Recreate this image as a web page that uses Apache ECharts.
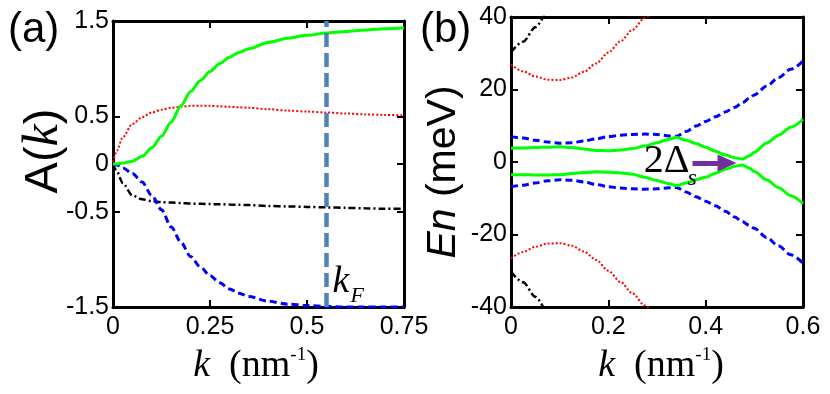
<!DOCTYPE html>
<html>
<head>
<meta charset="utf-8">
<script src="https://cdn.jsdelivr.net/npm/echarts@6/dist/echarts.min.js"></script>
<style>
html, body { margin: 0; background: #fff; }
#main { width: 830px; height: 394px; }
</style>
</head>
<body>
<div id="main"></div>
<script>
// ---- panel (a): A(k) vs k ----
var kA = [0, 0.01, 0.025, 0.05, 0.075, 0.1, 0.125, 0.15, 0.175, 0.2, 0.225, 0.25, 0.275, 0.3, 0.325, 0.35, 0.4, 0.45, 0.5, 0.55, 0.6, 0.65, 0.7, 0.75];
var greenA = [0, 0, 0.01, 0.03, 0.08, 0.17, 0.29, 0.44, 0.61, 0.76, 0.875, 0.97, 1.055, 1.12, 1.17, 1.21, 1.275, 1.32, 1.35, 1.375, 1.39, 1.405, 1.42, 1.43];
var redA = [0.02, 0.14, 0.28, 0.42, 0.49, 0.54, 0.57, 0.59, 0.6, 0.61, 0.61, 0.61, 0.605, 0.6, 0.595, 0.59, 0.575, 0.56, 0.55, 0.54, 0.53, 0.52, 0.515, 0.51];
var blackA = [0, -0.08, -0.2, -0.33, -0.37, -0.39, -0.4, -0.405, -0.41, -0.415, -0.418, -0.42, -0.422, -0.425, -0.428, -0.43, -0.44, -0.445, -0.45, -0.455, -0.46, -0.465, -0.47, -0.47];
var blueA = [0, -0.01, -0.04, -0.1, -0.19, -0.33, -0.48, -0.66, -0.82, -0.97, -1.08, -1.17, -1.245, -1.31, -1.355, -1.39, -1.44, -1.47, -1.485, -1.495, -1.5, -1.5, -1.5, -1.5];
var kF = 0.55;
var yTicksA = [-1.5, -0.5, 0, 0.5, 1.5];

// ---- panel (b): En (meV) vs k ----
var kB = [0, 0.025, 0.05, 0.075, 0.1, 0.125, 0.15, 0.175, 0.2, 0.225, 0.25, 0.275, 0.3, 0.325, 0.34, 0.36, 0.38, 0.4, 0.42, 0.44, 0.46, 0.475, 0.49, 0.5, 0.525, 0.55, 0.575, 0.6];
var greenUp = [3.8, 3.85, 4.0, 4.1, 4.2, 4.0, 3.6, 3.2, 3.1, 3.3, 3.7, 4.4, 5.3, 6.3, 6.8, 6.0, 5.1, 4.1, 3.0, 1.9, 1.2, 0.8, 1.7, 2.7, 5.2, 7.4, 9.6, 11.8];
var greenDn = [-3.5, -3.5, -3.6, -3.6, -3.5, -3.2, -2.9, -2.7, -2.8, -3.0, -3.4, -4.2, -5.1, -6.0, -6.5, -5.8, -4.9, -4.2, -3.1, -2.0, -1.2, -0.8, -1.7, -2.6, -4.9, -7.1, -9.3, -11.5];
var blueUp = [7.0, 6.6, 6.0, 5.5, 5.2, 5.3, 5.8, 6.4, 7.0, 7.4, 7.6, 7.7, 7.6, 7.2, 7.1, 8.4, 9.9, 11.2, 12.5, 13.8, 15.1, 16.3, 17.6, 18.5, 20.9, 23.3, 25.6, 27.8];
var blueDn = [-6.8, -6.4, -5.8, -5.2, -4.9, -5.0, -5.5, -6.2, -6.8, -7.2, -7.4, -7.5, -7.4, -7.1, -7.0, -8.3, -9.6, -10.8, -12.1, -13.6, -15.2, -16.4, -17.5, -18.3, -20.8, -23.2, -25.6, -27.9];
var redUp = [26.9, 25.0, 23.6, 22.7, 22.6, 23.3, 24.9, 27.2, 30.2, 33.3, 36.5, 39.8, 43.0];
var redDn = [-26.6, -24.8, -23.4, -22.5, -22.4, -23.1, -24.7, -27.0, -30.0, -33.1, -36.3, -39.6, -43.0];
var blackUp = [30.3, 33.2, 37.2, 42.5];
var blackDn = [-30.3, -33.2, -37.2, -42.5];
var gapArrow = [[0.373, -0.3], [0.444, -0.3]];

var sans = 'Liberation Sans';
var serif = 'Liberation Serif';

function pairs(xs, ys) {
    return ys.map(function (y, i) { return [xs[i], y]; });
}

function frame() {
    return { show: true, onZero: false, lineStyle: { color: '#000', width: 3 } };
}
function ticks() {
    return { show: true, inside: true, length: 7, lineStyle: { color: '#000', width: 2 } };
}

function xAx(grid, pos, max, step) {
    return {
        type: 'value', gridIndex: grid, position: pos, min: 0, max: max, interval: step,
        axisLine: frame(), splitLine: { show: false }, axisTick: ticks(),
        axisLabel: { show: pos === 'bottom', color: '#000', fontFamily: sans, fontSize: 25, margin: 8 }
    };
}

function yAx(grid, pos, min, max, step, custom) {
    var a = {
        type: 'value', gridIndex: grid, position: pos, min: min, max: max, interval: step,
        axisLine: frame(), splitLine: { show: false }, axisTick: ticks(),
        axisLabel: { show: pos === 'left', color: '#000', fontFamily: sans, fontSize: 25, margin: 4 }
    };
    if (custom) {
        a.axisTick.customValues = custom;
        a.axisLabel.customValues = custom;
    }
    return a;
}

var styles = {
    green: { color: '#00ff00', width: 3, type: 'solid' },
    red: { color: '#ff0000', width: 2, type: [2, 2] },
    black: { color: '#000000', width: 2.5, type: [7, 3, 2, 3] },
    blue: { color: '#0000ff', width: 3, type: [7, 4] }
};

function line(xi, data, st, extra) {
    var s = {
        type: 'line', xAxisIndex: xi, yAxisIndex: xi, data: data,
        showSymbol: false, symbol: 'none', smooth: 0.3, smoothMonotone: 'x',
        lineStyle: st, silent: true, clip: true
    };
    for (var key in extra) s[key] = extra[key];
    return s;
}

var chart = echarts.init(document.getElementById('main'));

var option = {
    animation: false,
    grid: [
        { left: 113, top: 21, width: 291, height: 286 },
        { left: 511, top: 17, width: 292, height: 290 }
    ],
    xAxis: [xAx(0, 'bottom', 0.75, 0.25), xAx(0, 'top', 0.75, 0.25), xAx(1, 'bottom', 0.6, 0.2), xAx(1, 'top', 0.6, 0.2)],
    yAxis: [yAx(0, 'left', -1.5, 1.5, 0.5, yTicksA), yAx(0, 'right', -1.5, 1.5, 0.5, yTicksA), yAx(1, 'left', -40, 40, 20), yAx(1, 'right', -40, 40, 20)],
    series: [
        line(0, pairs(kA, redA), styles.red),
        line(0, pairs(kA, blackA), styles.black),
        line(0, pairs(kA, blueA), styles.blue),
        line(0, pairs(kA, greenA), styles.green, {
            markLine: {
                silent: true, symbol: ['none', 'none'], label: { show: false },
                lineStyle: { color: '#4f81bd', width: 4.5, type: [14, 6] },
                data: [{ xAxis: kF }]
            }
        }),
        line(2, pairs(kB, blackUp), styles.black),
        line(2, pairs(kB, blackDn), styles.black),
        line(2, pairs(kB, redUp), styles.red),
        line(2, pairs(kB, redDn), styles.red),
        line(2, pairs(kB, blueUp), styles.blue),
        line(2, pairs(kB, blueDn), styles.blue),
        line(2, pairs(kB, greenDn), styles.green),
        line(2, pairs(kB, greenUp), styles.green, {
            markLine: {
                silent: true, symbol: ['none', 'triangle'], symbolSize: [17, 19], label: { show: false },
                lineStyle: { color: '#7030a0', width: 5, type: 'solid' },
                data: [[{ coord: gapArrow[0] }, { coord: gapArrow[1] }]]
            }
        })
    ]
};
chart.setOption(option);

// text labels and annotations
var kFpx = chart.convertToPixel({ xAxisIndex: 0, yAxisIndex: 0 }, [kF, -1.5]);
var arrowPx = chart.convertToPixel({ xAxisIndex: 2, yAxisIndex: 2 }, gapArrow[0]);

function axisTitle(cx, y) {
    return {
        type: 'text', x: cx, y: y, z: 10,
        style: {
            text: '{i|k}{n|  (nm}{s|-1}{n|)}', align: 'center', verticalAlign: 'middle',
            rich: {
                i: { fontFamily: serif, fontStyle: 'italic', fontSize: 38, lineHeight: 40 },
                n: { fontFamily: serif, fontSize: 38, lineHeight: 40 },
                s: { fontFamily: serif, fontSize: 19, lineHeight: 19, verticalAlign: 'top' }
            }
        }
    };
}

chart.setOption({
    graphic: [
        { type: 'text', x: 8, y: 9, style: { text: '(a)', fontFamily: sans, fontSize: 42, fill: '#000' } },
        { type: 'text', x: 420, y: 9, style: { text: '(b)', fontFamily: sans, fontSize: 42, fill: '#000' } },
        {
            type: 'text', x: 44, y: 151, rotation: Math.PI / 2,
            style: {
                text: '{n|A(}{i|k}{n|)}', align: 'center', verticalAlign: 'middle',
                rich: {
                    n: { fontFamily: sans, fontSize: 47 },
                    i: { fontFamily: serif, fontStyle: 'italic', fontSize: 50 }
                }
            }
        },
        {
            type: 'text', x: 444, y: 172, rotation: Math.PI / 2,
            style: {
                text: '{i|En}{n| (meV)}', align: 'center', verticalAlign: 'middle',
                rich: {
                    n: { fontFamily: sans, fontSize: 41 },
                    i: { fontFamily: sans, fontStyle: 'italic', fontSize: 41 }
                }
            }
        },
        axisTitle(256, 366),
        axisTitle(661, 366),
        { type: 'text', x: kFpx[0] + 6, y: kFpx[1] - 44, z: 10, style: { text: 'k', fontFamily: serif, fontStyle: 'italic', fontSize: 38 } },
        { type: 'text', x: kFpx[0] + 24, y: kFpx[1] - 22, z: 10, style: { text: 'F', fontFamily: serif, fontStyle: 'italic', fontSize: 22 } },
        { type: 'text', x: arrowPx[0] - 3, y: arrowPx[1] - 22, z: 10, style: { text: '2Δ', align: 'right', fontFamily: serif, fontSize: 40 } },
        { type: 'text', x: arrowPx[0] - 5, y: arrowPx[1] + 4, z: 10, style: { text: 's', fontFamily: serif, fontStyle: 'italic', fontSize: 24 } }
    ]
});
</script>
</body>
</html>
